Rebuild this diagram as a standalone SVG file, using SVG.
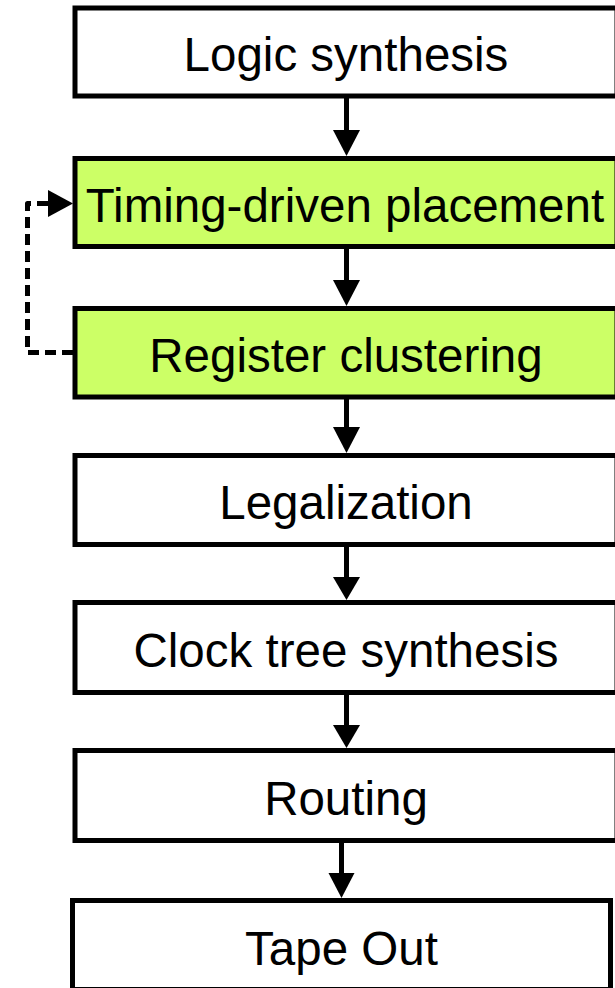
<svg xmlns="http://www.w3.org/2000/svg" width="615" height="988" viewBox="0 0 615 988">
<defs>
<style>
.box{fill:#ffffff;stroke:#000;stroke-width:5}
.hl{fill:#ccff66}
.lbl{font-family:"Liberation Sans",Arial,sans-serif;font-size:47.5px;fill:#000;text-anchor:middle}
.ln{stroke:#000;stroke-width:5;fill:none}
.dash{stroke:#000;stroke-width:5;fill:none;stroke-dasharray:11 6;stroke-linejoin:round}
.head{fill:#000}
</style>
</defs>
<rect width="615" height="988" fill="#fff"/>
<g id="connectors">
<line class="ln" x1="346.5" y1="96" x2="346.5" y2="131"/>
<polygon class="head" points="333,130 360,130 346.5,156"/>
<line class="ln" x1="346.5" y1="246.5" x2="346.5" y2="281"/>
<polygon class="head" points="333,280 360,280 346.5,306"/>
<line class="ln" x1="346.5" y1="397" x2="346.5" y2="428"/>
<polygon class="head" points="333,427 360,427 346.5,453"/>
<line class="ln" x1="346.5" y1="539" x2="346.5" y2="578"/>
<polygon class="head" points="333,577 360,577 346.5,600"/>
<line class="ln" x1="346.5" y1="692.5" x2="346.5" y2="726"/>
<polygon class="head" points="333,725 360,725 346.5,748"/>
<line class="ln" x1="341.5" y1="840.5" x2="341.5" y2="874"/>
<polygon class="head" points="328.5,873 354.5,873 341.5,898"/>
<path class="dash" d="M73,352.5 H27.5 V203.5 H49"/>
<polygon class="head" points="48,190 73,203.5 48,217"/>
</g>
<g id="n1"><rect class="box" x="75" y="8" width="542" height="88"/><text class="lbl" x="346" y="71">Logic synthesis</text></g>
<g id="n2"><rect class="box hl" x="75" y="158.5" width="542" height="88"/><text class="lbl" x="345" y="222">Timing-driven placement</text></g>
<g id="n3"><rect class="box hl" x="75" y="308.5" width="542" height="88.5"/><text class="lbl" x="346" y="372">Register clustering</text></g>
<g id="n4"><rect class="box" x="75" y="455.5" width="542" height="89"/><text class="lbl" x="346" y="519">Legalization</text></g>
<g id="n5"><rect class="box" x="75" y="602.5" width="542" height="90"/><text class="lbl" x="346" y="667">Clock tree synthesis</text></g>
<g id="n6"><rect class="box" x="75" y="750.5" width="542" height="90"/><text class="lbl" x="346" y="815">Routing</text></g>
<g id="n7"><rect class="box" x="72.5" y="900.5" width="538" height="89"/><text class="lbl" x="341.5" y="965">Tape Out</text></g>
</svg>
